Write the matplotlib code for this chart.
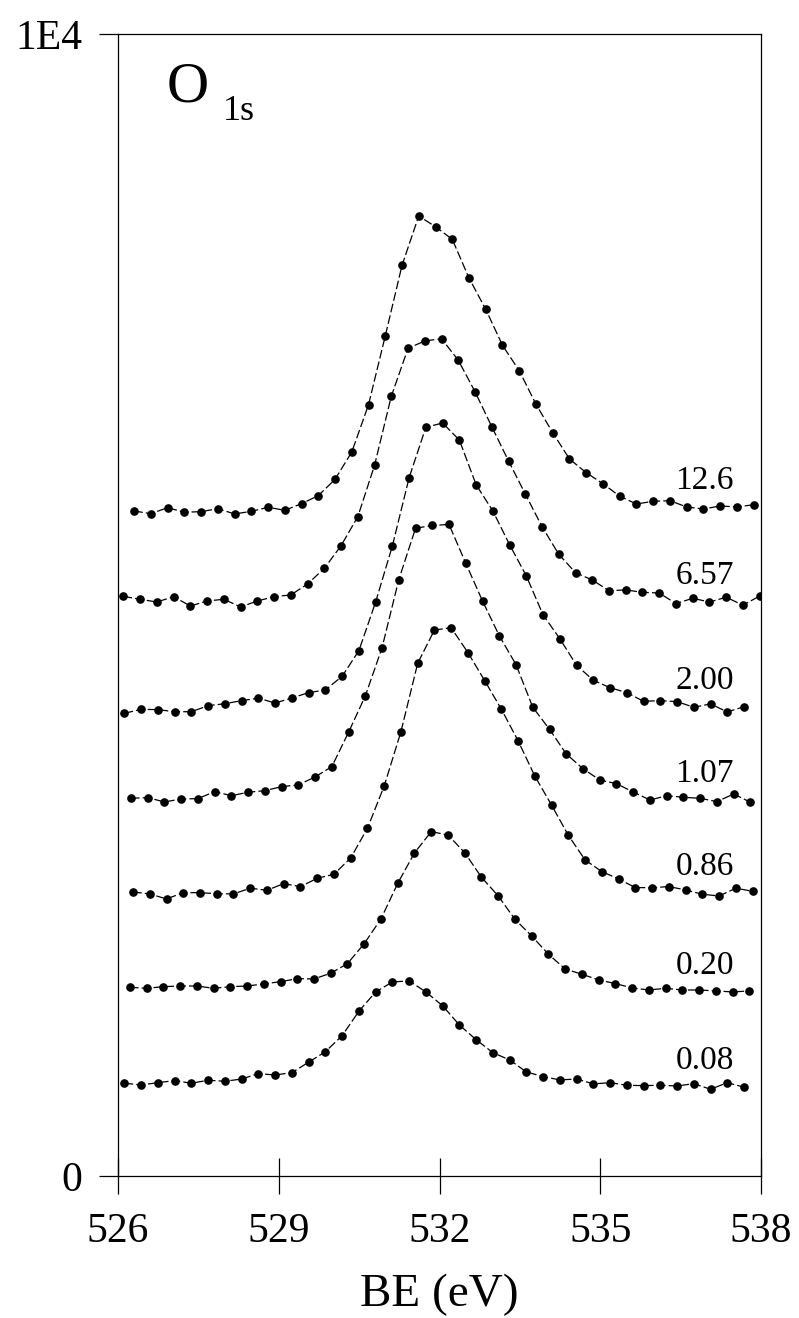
"""O 1s spectra stacked by exposure, redrawn from a scanned figure.

Writes out.png (799 x 1318 px).
"""

import matplotlib

matplotlib.use("Agg")
import matplotlib.pyplot as plt
import numpy as np

# scan step (eV) and first binding energy of every scan
STEP_EV = 0.3125
LABELS = ["12.6", "6.57", "2.00", "1.07", "0.86", "0.20", "0.08"]
START_EV = [526.30, 526.10, 526.12, 526.24, 526.28, 526.22, 526.12]

# stacked intensities (counts), top trace first
I_12_6 = [5825, 5801, 5854, 5814, 5819, 5845, 5799, 5822, 5857, 5831,
          5889, 5959, 6102, 6341, 6755, 7357, 7975, 8407, 8313, 8203,
          7864, 7590, 7275, 7053, 6759, 6510, 6280, 6160, 6064, 5954,
          5886, 5910, 5915, 5860, 5842, 5869, 5860, 5880]
I_6_57 = [5078, 5052, 5028, 5075, 4993, 5037, 5052, 4985, 5037, 5075,
          5090, 5186, 5323, 5521, 5775, 6225, 6829, 7249, 7313, 7333,
          7144, 6869, 6563, 6263, 5974, 5688, 5446, 5285, 5221, 5127,
          5134, 5113, 5107, 5014, 5061, 5028, 5070, 5000, 5081]
I_2_00 = [4054, 4089, 4086, 4068, 4068, 4121, 4138, 4165, 4186, 4144,
          4188, 4235, 4258, 4378, 4602, 5028, 5519, 6116, 6558, 6595,
          6446, 6055, 5825, 5530, 5256, 4915, 4707, 4474, 4343, 4278,
          4235, 4159, 4165, 4156, 4107, 4136, 4066, 4112]
I_1_07 = [3310, 3316, 3278, 3304, 3307, 3368, 3333, 3363, 3377, 3412,
          3427, 3497, 3587, 3888, 4206, 4628, 5224, 5674, 5698, 5707,
          5367, 5037, 4733, 4480, 4107, 3914, 3698, 3569, 3470, 3438,
          3365, 3295, 3333, 3319, 3310, 3281, 3348, 3275]
I_0_86 = [2490, 2473, 2429, 2484, 2484, 2475, 2473, 2523, 2505, 2563,
          2537, 2610, 2645, 2788, 3048, 3418, 3893, 4492, 4783, 4803,
          4585, 4340, 4089, 3812, 3503, 3249, 2985, 2770, 2668, 2604,
          2528, 2528, 2537, 2508, 2470, 2455, 2523, 2496]
I_0_20 = [1656, 1647, 1661, 1667, 1667, 1647, 1661, 1667, 1685, 1705,
          1731, 1729, 1779, 1863, 2038, 2254, 2566, 2832, 3018, 2989,
          2834, 2619, 2455, 2251, 2105, 1945, 1816, 1770, 1720, 1688,
          1650, 1632, 1647, 1632, 1632, 1624, 1615, 1624]
I_0_08 = [816, 801, 821, 839, 816, 842, 833, 853, 900, 888,
          909, 1000, 1092, 1232, 1446, 1615, 1702, 1712, 1615, 1494,
          1326, 1197, 1084, 1020, 915, 874, 845, 853, 810, 821,
          798, 795, 798, 792, 812, 763, 821, 781]

SERIES = [I_12_6, I_6_57, I_2_00, I_1_07, I_0_86, I_0_20, I_0_08]

FONT = "Liberation Serif"


def main():
    plt.rcParams["font.family"] = [FONT, "DejaVu Serif"]

    fig = plt.figure(figsize=(7.99, 13.18), dpi=100)
    ax = fig.add_axes([0.1477, 0.1074, 0.8048, 0.8668])

    for label, start, vals in zip(LABELS, START_EV, SERIES):
        be = start + STEP_EV * np.arange(len(vals))
        ax.plot(be, vals, color="black", lw=0.9, ls=(0, (7, 2.5)),
                marker="o", ms=5.2, mec="black", mfc="black")
        # exposure tag sits a little above the flat high-BE tail
        ax.text(536.95, np.mean(vals[-6:]) + 215, label, ha="center",
                va="center", fontsize=24)

    ax.set_xlim(526, 538)
    ax.set_ylim(0, 10000)
    ax.set_xticks([526, 529, 532, 535, 538])
    ax.set_yticks([0, 10000])
    ax.set_yticklabels(["0", "1E4"])
    ax.tick_params(axis="x", direction="inout", length=26, width=0.9,
                   pad=13, labelsize=30)
    ax.tick_params(axis="y", direction="out", length=13.5, width=0.9,
                   pad=12, labelsize=30)
    for sp in ax.spines.values():
        sp.set_linewidth(0.9)

    ax.set_xlabel("BE (eV)", fontsize=34, labelpad=16)

    ax.text(0.109, 0.953, "O", transform=ax.transAxes, ha="center",
            va="center", fontsize=42)
    ax.text(0.188, 0.932, "1s", transform=ax.transAxes, ha="center",
            va="center", fontsize=26)

    fig.savefig("out.png", dpi=100)
    plt.close(fig)


if __name__ == "__main__":
    main()
